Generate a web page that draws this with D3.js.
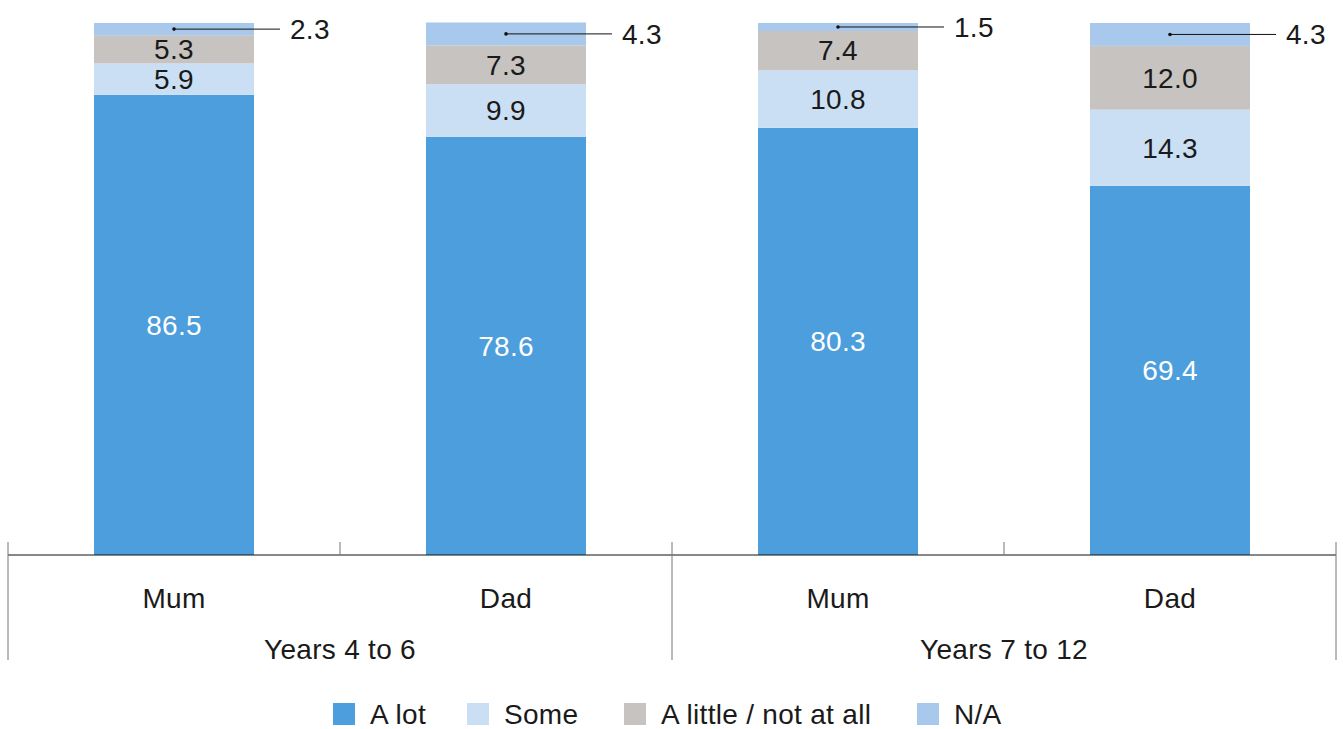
<!DOCTYPE html>
<html>
<head>
<meta charset="utf-8">
<script src="https://cdn.jsdelivr.net/npm/d3@7"></script>
<style>
  html, body { margin: 0; padding: 0; background: #fff; }
  svg { display: block; }
  text { font-family: "Liberation Sans", "Helvetica Neue", Arial, sans-serif; letter-spacing: 0.3px; }
</style>
</head>
<body>
<svg id="chart" width="1343" height="729"></svg>
<script>
// ---- data ----
const groups = ["Years 4 to 6", "Years 7 to 12"];
const parents = ["Mum", "Dad"];
const seriesNames = ["A lot", "Some", "A little / not at all", "N/A"];
const aLot   = [86.5, 78.6, 80.3, 69.4];
const some   = [5.9, 9.9, 10.8, 14.3];
const little = [5.3, 7.3, 7.4, 12.0];
const na     = [2.3, 4.3, 1.5, 4.3];
const colors = ["#4d9edd", "#cbdff4", "#c6c3c0", "#a8c9ec"];

// ---- build table ----
const rows = [];
groups.forEach((g, gi) => parents.forEach((p, pi) => {
  const i = gi * parents.length + pi;
  rows.push({ key: g + "|" + p, group: g, parent: p,
    "A lot": aLot[i], "Some": some[i], "A little / not at all": little[i], "N/A": na[i] });
}));

const svg = d3.select("#chart");
const left = 8, right = 1336, baseY = 555, topY = 23;
const fs = 28;

const x = d3.scaleBand().domain(rows.map(d => d.key)).range([left, right]).paddingInner(0).paddingOuter(0);
const xg = d3.scaleBand().domain(groups).range([left, right]);
const y = d3.scaleLinear().domain([0, 100]).range([baseY, topY]);
const color = d3.scaleOrdinal().domain(seriesNames).range(colors);
const barW = 160;

const stack = d3.stack().keys(seriesNames)(rows);

const layers = svg.append("g").selectAll("g").data(stack).join("g")
  .attr("fill", d => color(d.key));
layers.selectAll("rect").data(d => d.map(v => Object.assign(v, { series: d.key }))).join("rect")
  .attr("x", d => x(d.data.key) + (x.bandwidth() - barW) / 2)
  .attr("width", barW)
  .attr("y", d => y(d[1]))
  .attr("height", d => y(d[0]) - y(d[1]));

// inside labels
const fmt = d3.format(".1f");
stack.forEach((layer, li) => {
  if (layer.key === "N/A") return;
  svg.append("g").selectAll("text").data(layer).join("text")
    .attr("x", d => x(d.data.key) + x.bandwidth() / 2)
    .attr("y", d => (y(d[0]) + y(d[1])) / 2)
    .attr("dy", "0.35em")
    .attr("text-anchor", "middle")
    .attr("font-size", fs)
    .attr("fill", layer.key === "A lot" ? "#ffffff" : "#1a1a1a")
    .text(d => fmt(d[1] - d[0]));
});

// N/A callouts
const naLayer = stack[stack.length - 1];
const call = svg.append("g").selectAll("g").data(naLayer).join("g");
call.append("line")
  .attr("x1", d => x(d.data.key) + x.bandwidth() / 2)
  .attr("x2", d => x(d.data.key) + x.bandwidth() / 2 + 106)
  .attr("y1", d => (y(d[0]) + y(d[1])) / 2)
  .attr("y2", d => (y(d[0]) + y(d[1])) / 2)
  .attr("stroke", "#111").attr("stroke-width", 1);
call.append("circle")
  .attr("cx", d => x(d.data.key) + x.bandwidth() / 2)
  .attr("cy", d => (y(d[0]) + y(d[1])) / 2)
  .attr("r", 1.8).attr("fill", "#111");
call.append("text")
  .attr("x", d => x(d.data.key) + x.bandwidth() / 2 + 116)
  .attr("y", d => (y(d[0]) + y(d[1])) / 2)
  .attr("dy", "0.35em")
  .attr("font-size", fs)
  .attr("fill", "#1a1a1a")
  .text(d => fmt(d[1] - d[0]));

// axis
svg.append("line").attr("x1", left).attr("x2", right).attr("y1", baseY).attr("y2", baseY)
  .attr("stroke", "#111").attr("stroke-width", 1);
// inner ticks (between parents within a group)
groups.forEach(g => {
  const xm = xg(g) + xg.bandwidth() / 2;
  svg.append("line").attr("x1", xm).attr("x2", xm).attr("y1", baseY - 13).attr("y2", baseY)
    .attr("stroke", "#777").attr("stroke-width", 1);
});
// group boundaries
const bounds = groups.map(g => xg(g)).concat([xg(groups[groups.length - 1]) + xg.bandwidth()]);
svg.append("g").selectAll("line").data(bounds).join("line")
  .attr("x1", d => d).attr("x2", d => d).attr("y1", baseY - 13).attr("y2", 660)
  .attr("stroke", "#777").attr("stroke-width", 1);

// category labels
svg.append("g").selectAll("text").data(rows).join("text")
  .attr("x", d => x(d.key) + x.bandwidth() / 2)
  .attr("y", 608)
  .attr("text-anchor", "middle")
  .attr("font-size", fs).attr("fill", "#1a1a1a")
  .text(d => d.parent);
svg.append("g").selectAll("text").data(groups).join("text")
  .attr("x", d => xg(d) + xg.bandwidth() / 2)
  .attr("y", 659)
  .attr("text-anchor", "middle")
  .attr("font-size", fs).attr("fill", "#1a1a1a")
  .text(d => d);

// legend
const legX = [333, 467, 624, 917];
const leg = svg.append("g").selectAll("g").data(seriesNames).join("g")
  .attr("transform", (d, i) => `translate(${legX[i]},703)`);
leg.append("rect").attr("width", 22).attr("height", 22).attr("fill", d => color(d));
leg.append("text").attr("x", 37).attr("y", 21)
  .attr("font-size", fs).attr("fill", "#1a1a1a").text(d => d);
</script>
</body>
</html>
